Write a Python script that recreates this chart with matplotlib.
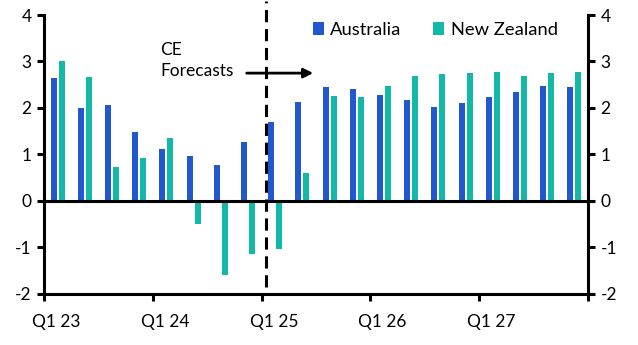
import matplotlib
matplotlib.use("Agg")
import matplotlib.pyplot as plt
import numpy as np

quarters = ["Q1 23","Q2 23","Q3 23","Q4 23","Q1 24","Q2 24","Q3 24","Q4 24",
            "Q1 25","Q2 25","Q3 25","Q4 25","Q1 26","Q2 26","Q3 26","Q4 26",
            "Q1 27","Q2 27","Q3 27","Q4 27"]
australia = [2.65, 2.00, 2.06, 1.48, 1.12, 0.97, 0.78, 1.27,
             1.70, 2.13, 2.45, 2.41, 2.28, 2.17, 2.02, 2.11,
             2.24, 2.34, 2.47, 2.45]
new_zealand = [3.01, 2.67, 0.73, 0.92, 1.36, -0.49, -1.59, -1.14,
               -1.03, 0.60, 2.26, 2.24, 2.47, 2.69, 2.73, 2.75,
               2.77, 2.69, 2.75, 2.77]
xtick_labels = ["Q1 23", "Q1 24", "Q1 25", "Q1 26", "Q1 27"]
yticks = [-2, -1, 0, 1, 2, 3, 4]

plt.rcParams['font.family'] = ['Lato', 'DejaVu Sans']
fs = 12.5

fig = plt.figure(figsize=(6.38, 3.45), dpi=100)
ax = fig.add_axes([0.069, 0.148, 0.8526, 0.8085])

x = np.arange(len(quarters))
w = 0.22
off = 0.147
ax.bar(x - off, australia, w, color="#2157CF", label="Australia")
ax.bar(x + off, new_zealand, w, color="#12B9A9", label="New Zealand")

ax.set_xlim(-0.5, len(quarters) - 0.5)
ax.set_ylim(-2, 4)
ax.axhline(0, color="black", lw=2.2)

# x ticks at year boundaries, labels at the Q1 bar groups
bounds = [-0.5 + 4 * k for k in range(6)]
ax.set_xticks(bounds)
ax.set_xticklabels([""] * len(bounds))
for k, lab in enumerate(xtick_labels):
    ax.text(4 * k - 0.05, -2.44, lab, ha="center", va="top", fontsize=fs)
ax.tick_params(axis="x", length=5, width=2.2, direction="out")

ax.set_yticks(yticks)
ax.set_yticklabels([str(v) for v in yticks], fontsize=fs)
ax.tick_params(axis="y", length=5, width=2.2, direction="out", pad=4)

for s in ["top", "right"]:
    ax.spines[s].set_visible(False)
for s in ["left", "bottom"]:
    ax.spines[s].set_linewidth(2.2)

ax2 = ax.twinx()
ax2.set_ylim(-2, 4)
ax2.set_yticks(yticks)
ax2.set_yticklabels([str(v) for v in yticks], fontsize=fs)
ax2.tick_params(axis="y", length=5, width=2.2, direction="out", pad=4)
for s in ["top", "left", "bottom"]:
    ax2.spines[s].set_visible(False)
ax2.spines["right"].set_linewidth(2.2)

# forecast divider
xd = 7.66
ax.plot([xd, xd], [-1.85, 4.3], color="black", lw=2.2, ls=(0, (4, 2.2)), clip_on=False)
ax.text(3.76, 3.02, "CE\nForecasts", ha="left", va="center", fontsize=fs, linespacing=1.45)
ax.annotate("", xy=(9.5, 2.75), xytext=(6.85, 2.75),
            arrowprops=dict(arrowstyle="-|>", color="black", lw=2, mutation_scale=14))

ax.legend(loc="upper right", bbox_to_anchor=(0.975, 1.035), ncol=2, frameon=False,
          prop={"size": 13.2}, handlelength=0.6, handleheight=0.7, handletextpad=0.35,
          columnspacing=1.75)

fig.savefig("out.png", dpi=100)
